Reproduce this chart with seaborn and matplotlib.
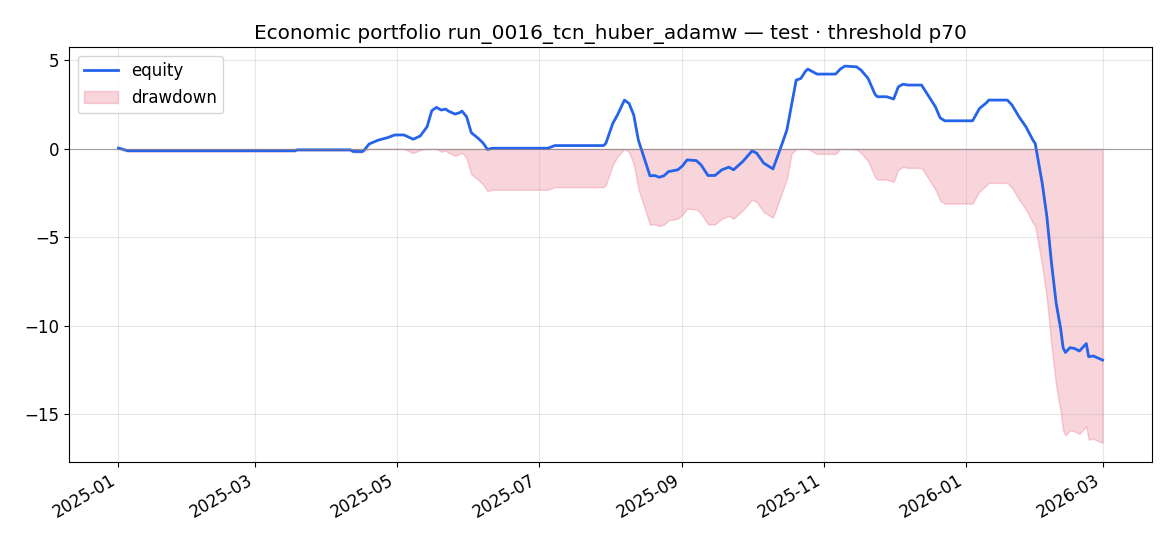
import numpy as np
import pandas as pd
import matplotlib
matplotlib.use('Agg')
import matplotlib.pyplot as plt
import matplotlib.dates as mdates
import seaborn as sns

plt.rcParams['font.size'] = 12

# Equity curve (turning points)
dates = [
    '2025-01-01', '2025-01-05', '2025-03-18', '2025-03-19', '2025-04-11', '2025-04-12',
    '2025-04-16', '2025-04-17', '2025-04-19', '2025-04-23', '2025-04-27', '2025-04-30',
    '2025-05-04', '2025-05-08', '2025-05-11', '2025-05-14', '2025-05-16', '2025-05-18',
    '2025-05-20', '2025-05-22', '2025-05-23', '2025-05-26', '2025-05-28', '2025-05-29',
    '2025-05-31', '2025-06-02', '2025-06-05', '2025-06-07', '2025-06-09', '2025-06-11',
    '2025-07-05', '2025-07-08', '2025-07-29', '2025-07-30', '2025-08-02', '2025-08-04',
    '2025-08-07', '2025-08-09', '2025-08-11', '2025-08-13', '2025-08-16', '2025-08-18',
    '2025-08-20', '2025-08-22', '2025-08-24', '2025-08-26', '2025-08-30', '2025-09-01',
    '2025-09-03', '2025-09-07', '2025-09-09', '2025-09-12', '2025-09-15', '2025-09-18',
    '2025-09-21', '2025-09-23', '2025-09-27', '2025-10-01', '2025-10-03', '2025-10-06',
    '2025-10-10', '2025-10-13', '2025-10-16', '2025-10-18', '2025-10-20', '2025-10-22',
    '2025-10-24', '2025-10-25', '2025-10-29', '2025-11-06', '2025-11-08', '2025-11-10',
    '2025-11-15', '2025-11-17', '2025-11-20', '2025-11-23', '2025-11-24', '2025-11-28',
    '2025-12-01', '2025-12-03', '2025-12-05', '2025-12-07', '2025-12-13', '2025-12-16',
    '2025-12-19', '2025-12-21', '2025-12-23', '2026-01-04', '2026-01-07', '2026-01-10',
    '2026-01-11', '2026-01-19', '2026-01-21', '2026-01-24', '2026-01-27', '2026-01-30',
    '2026-01-31', '2026-02-03', '2026-02-05', '2026-02-07', '2026-02-09', '2026-02-11',
    '2026-02-12', '2026-02-13', '2026-02-15', '2026-02-17', '2026-02-19', '2026-02-22',
    '2026-02-23', '2026-02-25', '2026-03-01',
]
equity = [
    0.05, -0.10, -0.10, -0.05, -0.05, -0.14,
    -0.15, -0.05, 0.28, 0.50, 0.64, 0.79,
    0.79, 0.55, 0.73, 1.26, 2.16, 2.35,
    2.20, 2.25, 2.15, 1.97, 2.05, 2.14,
    1.82, 0.92, 0.60, 0.35, -0.03, 0.04,
    0.04, 0.19, 0.19, 0.32, 1.45, 1.92,
    2.76, 2.57, 1.92, 0.50, -0.71, -1.52,
    -1.50, -1.60, -1.52, -1.28, -1.18, -0.96,
    -0.62, -0.66, -0.90, -1.50, -1.50, -1.18,
    -1.03, -1.18, -0.71, -0.11, -0.24, -0.80,
    -1.13, -0.05, 1.07, 2.48, 3.89, 3.98,
    4.39, 4.51, 4.23, 4.23, 4.51, 4.68,
    4.64, 4.45, 3.98, 3.08, 2.95, 2.95,
    2.82, 3.51, 3.66, 3.61, 3.61, 3.00,
    2.38, 1.76, 1.59, 1.59, 2.29, 2.61,
    2.76, 2.76, 2.48, 1.82, 1.25, 0.50,
    0.30, -1.93, -3.81, -6.44, -8.70, -10.20,
    -11.23, -11.50, -11.23, -11.28, -11.42, -11.00,
    -11.74, -11.70, -11.93,
]

df = pd.DataFrame({'date': pd.to_datetime(dates), 'equity': equity})
df['drawdown'] = df['equity'] - df['equity'].cummax()

fig, ax = plt.subplots(figsize=(11.7, 5.46), dpi=100)
sns.lineplot(data=df, x='date', y='equity', color='#2563eb', linewidth=2.0,
             label='equity', ax=ax)
ax.fill_between(df['date'], df['drawdown'], 0, color='crimson', alpha=0.18,
                label='drawdown')
ax.axhline(0, color='gray', linewidth=0.8, alpha=0.7)

ax.set_title('Economic portfolio run_0016_tcn_huber_adamw \u2014 test \u00b7 threshold p70')
ax.set_xlabel('')
ax.set_ylabel('')
ax.grid(alpha=0.3)
ax.xaxis.set_major_locator(mdates.MonthLocator(bymonth=[1, 3, 5, 7, 9, 11]))
ax.xaxis.set_major_formatter(mdates.DateFormatter('%Y-%m'))
ax.legend(loc='upper left')
fig.autofmt_xdate()
fig.subplots_adjust(left=0.0592, right=0.9844, top=0.9134, bottom=0.1544)
fig.savefig('out.png')
